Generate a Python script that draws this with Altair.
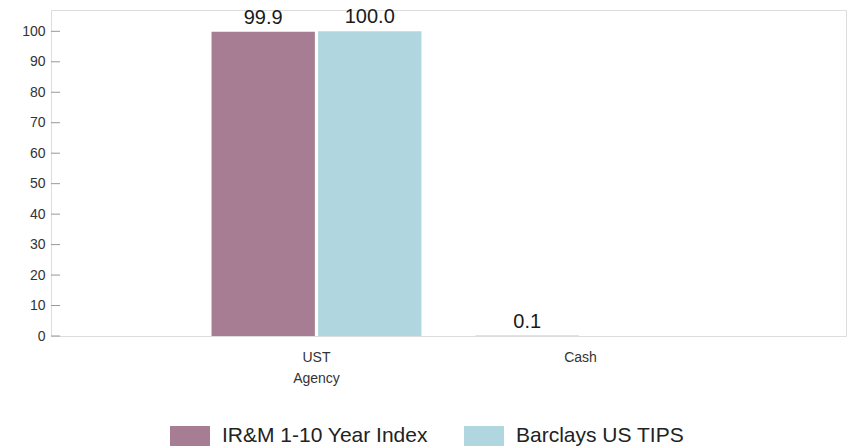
import altair as alt
import pandas as pd

categories = ["UST Agency", "Cash"]
series = ["IR&M 1-10 Year Index", "Barclays US TIPS"]
irm_values = [99.9, 0.1]
barclays_values = [100.0, 0.0]
y_ticks = [0, 10, 20, 30, 40, 50, 60, 70, 80, 90, 100]
colors = ["#A67D93", "#B0D7DF"]

rows = []
for c, a, b in zip(categories, irm_values, barclays_values):
    rows.append({"category": c, "series": series[0], "value": a})
    rows.append({"category": c, "series": series[1], "value": b})
df = pd.DataFrame(rows)
ticks_df = pd.DataFrame({"tick": y_ticks})

FONT = "Liberation Sans"

yscale = alt.Scale(domain=[0, 107], nice=False)
yaxis = alt.Axis(values=y_ticks, title=None, domain=False, ticks=False, grid=False,
                 labelFontSize=14, labelPadding=6, labelColor="#333333", labelFont=FONT)

x_enc = alt.X(
    "category:N",
    sort=categories,
    scale=alt.Scale(paddingInner=0.205, paddingOuter=0.608),
    axis=alt.Axis(
        title=None, labelAngle=0, domain=False, ticks=False,
        labelExpr="split(datum.value, ' ')",
        labelFontSize=14, labelLineHeight=21, labelPadding=14,
        labelColor="#333333", labelFont=FONT,
    ),
)
xoff_enc = alt.XOffset("series:N", sort=series,
                       scale=alt.Scale(paddingInner=0.03, paddingOuter=0))
y_enc = alt.Y("value:Q", scale=yscale, axis=yaxis)

bars = alt.Chart(df).mark_bar().encode(
    x=x_enc,
    xOffset=xoff_enc,
    y=y_enc,
    color=alt.Color(
        "series:N",
        scale=alt.Scale(domain=series, range=colors),
        legend=alt.Legend(
            orient="none", legendX=119, legendY=406, direction="horizontal",
            title=None, symbolType="M-1,-0.5H1V0.5H-1Z", symbolSize=1600,
            symbolStrokeWidth=0, symbolOpacity=1, labelFontSize=21, labelOffset=12,
            columnPadding=36, padding=0, labelColor="#222222", labelLimit=400,
            labelFont=FONT,
        ),
    ),
)

labels = alt.Chart(df).transform_filter("datum.value > 0").mark_text(
    baseline="bottom", dy=-4, fontSize=20, color="#1a1a1a", font=FONT
).encode(
    x=x_enc,
    xOffset=xoff_enc,
    y=y_enc,
    text=alt.Text("value:Q", format=".1f"),
)

tick_marks = alt.Chart(ticks_df).mark_rule(color="#999999", strokeWidth=1).encode(
    y=alt.Y("tick:Q", scale=yscale, axis=yaxis),
    x=alt.value(0),
    x2=alt.value(9),
)

chart = alt.layer(bars, labels, tick_marks).properties(
    width=795,
    height=326,
    autosize=alt.AutoSizeParams(type="none"),
    padding={"left": 51, "top": 10, "right": 2, "bottom": 112},
).configure_view(stroke="#999999", strokeWidth=2).configure(font=FONT)

chart.save("out.html", embed_options={"renderer": "svg", "actions": False})
